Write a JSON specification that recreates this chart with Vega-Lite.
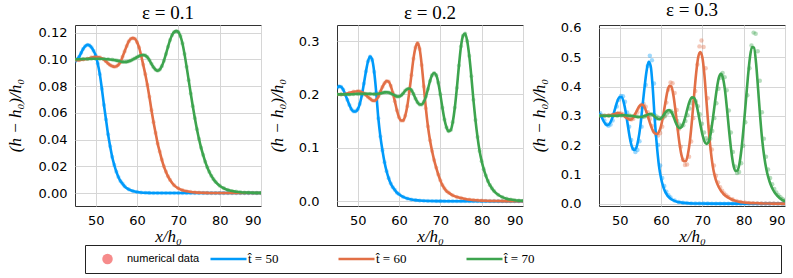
{
"$schema":"https://vega.github.io/schema/vega-lite/v6.json",
"autosize":{"type":"pad"},
"padding":{"left":5,"top":0,"right":0,"bottom":0},
"bounds":"flush",
"spacing":76,
"config":{
 "view":{"stroke":"#333","strokeWidth":1},
 "axis":{"grid":true,"gridColor":"#d6d6d6","gridWidth":1,"domain":false,"ticks":false,"labelFont":"DejaVu Sans","labelFontSize":13,"labelColor":"#000","titleFont":"Liberation Serif","titleFontSize":17,"titleFontStyle":"italic","titleFontWeight":"normal","titleColor":"#000"},
 "axisY":{"labelPadding":7,"titleX":-60,"titleY":90,"titleAngle":-90,"titleAlign":"center","titleBaseline":"middle"},
 "axisX":{"labelPadding":8,"titleY":35,"titleBaseline":"alphabetic"},
 "title":{"font":"Liberation Serif","fontSize":19,"fontWeight":"normal","offset":2,"color":"#000"},
 "legend":{"orient":"none","clipHeight":14,"labelFontSize":12,"labelColor":"#000"}
},
"datasets":{
"p1":[
{"s":"50","x":45,"y":0.0985},{"s":"50","x":45.5,"y":0.1},{"s":"50","x":46,"y":0.102},{"s":"50","x":46.5,"y":0.105},{"s":"50","x":47,"y":0.108},{"s":"50","x":47.5,"y":0.11},{"s":"50","x":48,"y":0.111},{"s":"50","x":48.5,"y":0.1105},{"s":"50","x":49,"y":0.109},{"s":"50","x":49.5,"y":0.1065},{"s":"50","x":50,"y":0.103},{"s":"50","x":50.5,"y":0.097},{"s":"50","x":51,"y":0.089},{"s":"50","x":51.5,"y":0.078},{"s":"50","x":52,"y":0.066},{"s":"50","x":52.5,"y":0.055},{"s":"50","x":53,"y":0.044},{"s":"50","x":53.5,"y":0.035},{"s":"50","x":54,"y":0.027},{"s":"50","x":54.5,"y":0.021},{"s":"50","x":55,"y":0.016},{"s":"50","x":55.5,"y":0.012},{"s":"50","x":56,"y":0.009},{"s":"50","x":56.5,"y":0.007},{"s":"50","x":57,"y":0.005},{"s":"50","x":58,"y":0.0028},{"s":"50","x":59,"y":0.0015},{"s":"50","x":60,"y":0.0008},{"s":"50","x":61,"y":0.0004},{"s":"50","x":62,"y":0.0002},{"s":"50","x":63,"y":0.0001},{"s":"50","x":64,"y":0},{"s":"50","x":65,"y":0},{"s":"50","x":66,"y":0},{"s":"50","x":67,"y":0},{"s":"50","x":68,"y":0},{"s":"50","x":69,"y":0},{"s":"50","x":70,"y":0},{"s":"50","x":71,"y":0},{"s":"50","x":72,"y":0},{"s":"50","x":73,"y":0},{"s":"50","x":74,"y":0},{"s":"50","x":75,"y":0},{"s":"50","x":76,"y":0},{"s":"50","x":77,"y":0},{"s":"50","x":78,"y":0},{"s":"50","x":79,"y":0},{"s":"50","x":80,"y":0},{"s":"50","x":81,"y":0},{"s":"50","x":82,"y":0},{"s":"50","x":83,"y":0},{"s":"50","x":84,"y":0},{"s":"50","x":85,"y":0},{"s":"50","x":86,"y":0},{"s":"50","x":87,"y":0},{"s":"50","x":88,"y":0},{"s":"50","x":89,"y":0},{"s":"50","x":90,"y":0},
{"s":"60","x":45,"y":0.0995},{"s":"60","x":46,"y":0.0995},{"s":"60","x":47,"y":0.1},{"s":"60","x":48,"y":0.1005},{"s":"60","x":49,"y":0.1015},{"s":"60","x":50,"y":0.102},{"s":"60","x":51,"y":0.1015},{"s":"60","x":52,"y":0.1},{"s":"60","x":52.5,"y":0.0985},{"s":"60","x":53,"y":0.097},{"s":"60","x":53.5,"y":0.0958},{"s":"60","x":54,"y":0.095},{"s":"60","x":54.5,"y":0.0945},{"s":"60","x":55,"y":0.0948},{"s":"60","x":55.5,"y":0.096},{"s":"60","x":56,"y":0.098},{"s":"60","x":56.5,"y":0.102},{"s":"60","x":57,"y":0.106},{"s":"60","x":57.5,"y":0.11},{"s":"60","x":58,"y":0.1135},{"s":"60","x":58.5,"y":0.1155},{"s":"60","x":59,"y":0.116},{"s":"60","x":59.5,"y":0.1155},{"s":"60","x":60,"y":0.113},{"s":"60","x":60.5,"y":0.109},{"s":"60","x":61,"y":0.103},{"s":"60","x":61.5,"y":0.096},{"s":"60","x":62,"y":0.089},{"s":"60","x":62.5,"y":0.081},{"s":"60","x":63,"y":0.072},{"s":"60","x":63.5,"y":0.062},{"s":"60","x":64,"y":0.053},{"s":"60","x":64.5,"y":0.045},{"s":"60","x":65,"y":0.037},{"s":"60","x":65.5,"y":0.031},{"s":"60","x":66,"y":0.025},{"s":"60","x":66.5,"y":0.02},{"s":"60","x":67,"y":0.016},{"s":"60","x":67.5,"y":0.0125},{"s":"60","x":68,"y":0.0098},{"s":"60","x":69,"y":0.0058},{"s":"60","x":70,"y":0.0035},{"s":"60","x":71,"y":0.0021},{"s":"60","x":72,"y":0.0013},{"s":"60","x":73,"y":0.0008},{"s":"60","x":74,"y":0.0005},{"s":"60","x":75,"y":0.0003},{"s":"60","x":76,"y":0.0002},{"s":"60","x":77,"y":0.0001},{"s":"60","x":78,"y":0},{"s":"60","x":79,"y":0},{"s":"60","x":80,"y":0},{"s":"60","x":81,"y":0},{"s":"60","x":82,"y":0},{"s":"60","x":83,"y":0},{"s":"60","x":84,"y":0},{"s":"60","x":85,"y":0},{"s":"60","x":86,"y":0},{"s":"60","x":87,"y":0},{"s":"60","x":88,"y":0},{"s":"60","x":89,"y":0},{"s":"60","x":90,"y":0},
{"s":"70","x":45,"y":0.1},{"s":"70","x":46,"y":0.1002},{"s":"70","x":47,"y":0.1003},{"s":"70","x":48,"y":0.1004},{"s":"70","x":49,"y":0.1005},{"s":"70","x":50,"y":0.1005},{"s":"70","x":51,"y":0.1005},{"s":"70","x":52,"y":0.1004},{"s":"70","x":53,"y":0.1002},{"s":"70","x":54,"y":0.0998},{"s":"70","x":55,"y":0.0993},{"s":"70","x":55.5,"y":0.0989},{"s":"70","x":56,"y":0.0985},{"s":"70","x":56.5,"y":0.0982},{"s":"70","x":57,"y":0.0981},{"s":"70","x":57.5,"y":0.0982},{"s":"70","x":58,"y":0.0986},{"s":"70","x":58.5,"y":0.0992},{"s":"70","x":59,"y":0.1},{"s":"70","x":59.5,"y":0.1008},{"s":"70","x":60,"y":0.1017},{"s":"70","x":60.5,"y":0.1025},{"s":"70","x":61,"y":0.1031},{"s":"70","x":61.5,"y":0.1033},{"s":"70","x":62,"y":0.103},{"s":"70","x":62.5,"y":0.1017},{"s":"70","x":63,"y":0.0995},{"s":"70","x":63.5,"y":0.0967},{"s":"70","x":64,"y":0.0941},{"s":"70","x":64.5,"y":0.0923},{"s":"70","x":65,"y":0.0916},{"s":"70","x":65.5,"y":0.0924},{"s":"70","x":66,"y":0.095},{"s":"70","x":66.5,"y":0.099},{"s":"70","x":67,"y":0.104},{"s":"70","x":67.5,"y":0.1095},{"s":"70","x":68,"y":0.1145},{"s":"70","x":68.5,"y":0.1183},{"s":"70","x":69,"y":0.1205},{"s":"70","x":69.5,"y":0.1212},{"s":"70","x":70,"y":0.1205},{"s":"70","x":70.5,"y":0.1175},{"s":"70","x":71,"y":0.112},{"s":"70","x":71.5,"y":0.104},{"s":"70","x":72,"y":0.0945},{"s":"70","x":72.5,"y":0.0845},{"s":"70","x":73,"y":0.0745},{"s":"70","x":73.5,"y":0.065},{"s":"70","x":74,"y":0.056},{"s":"70","x":74.5,"y":0.0478},{"s":"70","x":75,"y":0.0405},{"s":"70","x":75.5,"y":0.034},{"s":"70","x":76,"y":0.0285},{"s":"70","x":76.5,"y":0.0235},{"s":"70","x":77,"y":0.0193},{"s":"70","x":77.5,"y":0.0158},{"s":"70","x":78,"y":0.0128},{"s":"70","x":78.5,"y":0.0104},{"s":"70","x":79,"y":0.0084},{"s":"70","x":80,"y":0.0055},{"s":"70","x":81,"y":0.0036},{"s":"70","x":82,"y":0.0023},{"s":"70","x":83,"y":0.0015},{"s":"70","x":84,"y":0.001},{"s":"70","x":85,"y":0.0006},{"s":"70","x":86,"y":0.0004},{"s":"70","x":87,"y":0.0003},{"s":"70","x":88,"y":0.0002},{"s":"70","x":89,"y":0.0001},{"s":"70","x":90,"y":0.0001}
],
"p2":[
{"s":"50","x":45,"y":0.212},{"s":"50","x":45.5,"y":0.215},{"s":"50","x":46,"y":0.214},{"s":"50","x":46.5,"y":0.209},{"s":"50","x":47,"y":0.2},{"s":"50","x":47.5,"y":0.19},{"s":"50","x":48,"y":0.18},{"s":"50","x":48.5,"y":0.172},{"s":"50","x":49,"y":0.168},{"s":"50","x":49.5,"y":0.168},{"s":"50","x":50,"y":0.172},{"s":"50","x":50.5,"y":0.182},{"s":"50","x":51,"y":0.198},{"s":"50","x":51.5,"y":0.22},{"s":"50","x":52,"y":0.243},{"s":"50","x":52.5,"y":0.262},{"s":"50","x":53,"y":0.271},{"s":"50","x":53.5,"y":0.265},{"s":"50","x":54,"y":0.242},{"s":"50","x":54.5,"y":0.203},{"s":"50","x":55,"y":0.155},{"s":"50","x":55.5,"y":0.121},{"s":"50","x":56,"y":0.095},{"s":"50","x":56.5,"y":0.073},{"s":"50","x":57,"y":0.056},{"s":"50","x":57.5,"y":0.043},{"s":"50","x":58,"y":0.033},{"s":"50","x":58.5,"y":0.026},{"s":"50","x":59,"y":0.021},{"s":"50","x":59.5,"y":0.016},{"s":"50","x":60,"y":0.013},{"s":"50","x":61,"y":0.008},{"s":"50","x":62,"y":0.005},{"s":"50","x":63,"y":0.003},{"s":"50","x":64,"y":0.002},{"s":"50","x":65,"y":0.0012},{"s":"50","x":66,"y":0.0008},{"s":"50","x":67,"y":0.0005},{"s":"50","x":68,"y":0.0003},{"s":"50","x":69,"y":0.0002},{"s":"50","x":70,"y":0.0001},{"s":"50","x":71,"y":0},{"s":"50","x":72,"y":0},{"s":"50","x":73,"y":0},{"s":"50","x":74,"y":0},{"s":"50","x":75,"y":0},{"s":"50","x":76,"y":0},{"s":"50","x":77,"y":0},{"s":"50","x":78,"y":0},{"s":"50","x":79,"y":0},{"s":"50","x":80,"y":0},{"s":"50","x":81,"y":0},{"s":"50","x":82,"y":0},{"s":"50","x":83,"y":0},{"s":"50","x":84,"y":0},{"s":"50","x":85,"y":0},{"s":"50","x":86,"y":0},{"s":"50","x":87,"y":0},{"s":"50","x":88,"y":0},{"s":"50","x":89,"y":0},{"s":"50","x":90,"y":0},
{"s":"60","x":45,"y":0.2},{"s":"60","x":46,"y":0.2},{"s":"60","x":47,"y":0.201},{"s":"60","x":48,"y":0.203},{"s":"60","x":49,"y":0.205},{"s":"60","x":50,"y":0.206},{"s":"60","x":50.5,"y":0.2055},{"s":"60","x":51,"y":0.204},{"s":"60","x":51.5,"y":0.202},{"s":"60","x":52,"y":0.199},{"s":"60","x":52.5,"y":0.195},{"s":"60","x":53,"y":0.192},{"s":"60","x":53.5,"y":0.189},{"s":"60","x":54,"y":0.188},{"s":"60","x":54.5,"y":0.19},{"s":"60","x":55,"y":0.196},{"s":"60","x":55.5,"y":0.205},{"s":"60","x":56,"y":0.214},{"s":"60","x":56.5,"y":0.221},{"s":"60","x":57,"y":0.225},{"s":"60","x":57.5,"y":0.224},{"s":"60","x":58,"y":0.216},{"s":"60","x":58.5,"y":0.203},{"s":"60","x":59,"y":0.187},{"s":"60","x":59.5,"y":0.17},{"s":"60","x":60,"y":0.157},{"s":"60","x":60.5,"y":0.151},{"s":"60","x":61,"y":0.151},{"s":"60","x":61.5,"y":0.16},{"s":"60","x":62,"y":0.178},{"s":"60","x":62.5,"y":0.205},{"s":"60","x":63,"y":0.236},{"s":"60","x":63.5,"y":0.267},{"s":"60","x":64,"y":0.288},{"s":"60","x":64.5,"y":0.296},{"s":"60","x":65,"y":0.285},{"s":"60","x":65.5,"y":0.255},{"s":"60","x":66,"y":0.215},{"s":"60","x":66.5,"y":0.174},{"s":"60","x":67,"y":0.14},{"s":"60","x":67.5,"y":0.114},{"s":"60","x":68,"y":0.094},{"s":"60","x":68.5,"y":0.077},{"s":"60","x":69,"y":0.063},{"s":"60","x":69.5,"y":0.05},{"s":"60","x":70,"y":0.039},{"s":"60","x":70.5,"y":0.03},{"s":"60","x":71,"y":0.024},{"s":"60","x":71.5,"y":0.019},{"s":"60","x":72,"y":0.016},{"s":"60","x":73,"y":0.011},{"s":"60","x":74,"y":0.008},{"s":"60","x":75,"y":0.006},{"s":"60","x":76,"y":0.004},{"s":"60","x":77,"y":0.003},{"s":"60","x":78,"y":0.002},{"s":"60","x":79,"y":0.0015},{"s":"60","x":80,"y":0.001},{"s":"60","x":81,"y":0.0007},{"s":"60","x":82,"y":0.0005},{"s":"60","x":83,"y":0.0004},{"s":"60","x":84,"y":0.0003},{"s":"60","x":85,"y":0.0002},{"s":"60","x":86,"y":0.0001},{"s":"60","x":87,"y":0.0001},{"s":"60","x":88,"y":0},{"s":"60","x":89,"y":0},{"s":"60","x":90,"y":0},
{"s":"70","x":45,"y":0.2},{"s":"70","x":46,"y":0.2},{"s":"70","x":47,"y":0.2},{"s":"70","x":48,"y":0.2},{"s":"70","x":49,"y":0.2005},{"s":"70","x":50,"y":0.201},{"s":"70","x":51,"y":0.201},{"s":"70","x":52,"y":0.201},{"s":"70","x":53,"y":0.201},{"s":"70","x":54,"y":0.2005},{"s":"70","x":55,"y":0.201},{"s":"70","x":55.5,"y":0.202},{"s":"70","x":56,"y":0.203},{"s":"70","x":56.5,"y":0.2038},{"s":"70","x":57,"y":0.204},{"s":"70","x":57.5,"y":0.2035},{"s":"70","x":58,"y":0.202},{"s":"70","x":58.5,"y":0.2},{"s":"70","x":59,"y":0.198},{"s":"70","x":59.5,"y":0.196},{"s":"70","x":60,"y":0.196},{"s":"70","x":60.5,"y":0.198},{"s":"70","x":61,"y":0.202},{"s":"70","x":61.5,"y":0.207},{"s":"70","x":62,"y":0.21},{"s":"70","x":62.5,"y":0.211},{"s":"70","x":63,"y":0.208},{"s":"70","x":63.5,"y":0.201},{"s":"70","x":64,"y":0.192},{"s":"70","x":64.5,"y":0.185},{"s":"70","x":65,"y":0.181},{"s":"70","x":65.5,"y":0.181},{"s":"70","x":66,"y":0.186},{"s":"70","x":66.5,"y":0.196},{"s":"70","x":67,"y":0.21},{"s":"70","x":67.5,"y":0.225},{"s":"70","x":68,"y":0.236},{"s":"70","x":68.5,"y":0.24},{"s":"70","x":69,"y":0.236},{"s":"70","x":69.5,"y":0.222},{"s":"70","x":70,"y":0.2},{"s":"70","x":70.5,"y":0.175},{"s":"70","x":71,"y":0.153},{"s":"70","x":71.5,"y":0.138},{"s":"70","x":72,"y":0.131},{"s":"70","x":72.5,"y":0.133},{"s":"70","x":73,"y":0.148},{"s":"70","x":73.5,"y":0.175},{"s":"70","x":74,"y":0.212},{"s":"70","x":74.5,"y":0.254},{"s":"70","x":75,"y":0.29},{"s":"70","x":75.5,"y":0.31},{"s":"70","x":76,"y":0.314},{"s":"70","x":76.5,"y":0.3},{"s":"70","x":77,"y":0.272},{"s":"70","x":77.5,"y":0.234},{"s":"70","x":78,"y":0.19},{"s":"70","x":78.5,"y":0.152},{"s":"70","x":79,"y":0.12},{"s":"70","x":79.5,"y":0.094},{"s":"70","x":80,"y":0.075},{"s":"70","x":80.5,"y":0.06},{"s":"70","x":81,"y":0.048},{"s":"70","x":81.5,"y":0.038},{"s":"70","x":82,"y":0.03},{"s":"70","x":82.5,"y":0.024},{"s":"70","x":83,"y":0.019},{"s":"70","x":84,"y":0.012},{"s":"70","x":85,"y":0.0075},{"s":"70","x":86,"y":0.0047},{"s":"70","x":87,"y":0.003},{"s":"70","x":88,"y":0.0018},{"s":"70","x":89,"y":0.0011},{"s":"70","x":90,"y":0.0007}
],
"p3":[
{"s":"50","x":45,"y":0.308,"xd":45.3,"d":0.3085},{"s":"50","x":45.5,"y":0.3,"xd":45.8,"d":0.3},{"s":"50","x":46,"y":0.285,"xd":46.3,"d":0.284},{"s":"50","x":46.5,"y":0.273,"xd":46.8,"d":0.271},{"s":"50","x":47,"y":0.268,"xd":47.3,"d":0.266},{"s":"50","x":47.5,"y":0.272,"xd":47.8,"d":0.27},{"s":"50","x":48,"y":0.285,"xd":48.3,"d":0.284},{"s":"50","x":48.5,"y":0.305,"xd":48.8,"d":0.305},{"s":"50","x":49,"y":0.33,"xd":49.3,"d":0.332},{"s":"50","x":49.5,"y":0.352,"xd":49.8,"d":0.355},{"s":"50","x":50,"y":0.364,"xd":50.3,"d":0.368},{"s":"50","x":50.5,"y":0.363,"xd":50.8,"d":0.367},{"s":"50","x":51,"y":0.345,"xd":51.3,"d":0.348},{"s":"50","x":51.5,"y":0.31,"xd":51.8,"d":0.311},{"s":"50","x":52,"y":0.265,"xd":52.3,"d":0.263},{"s":"50","x":52.5,"y":0.222,"xd":52.8,"d":0.217},{"s":"50","x":53,"y":0.193,"xd":53.3,"d":0.187},{"s":"50","x":53.5,"y":0.183,"xd":53.8,"d":0.176},{"s":"50","x":54,"y":0.19,"xd":54.3,"d":0.183},{"s":"50","x":54.5,"y":0.218,"xd":54.8,"d":0.213},{"s":"50","x":55,"y":0.265,"xd":55.3,"d":0.263},{"s":"50","x":55.5,"y":0.33,"xd":55.8,"d":0.332},{"s":"50","x":56,"y":0.395,"xd":56.3,"d":0.405},{"s":"50","x":56.5,"y":0.452,"xd":56.8,"d":0.47},{"s":"50","x":57,"y":0.484,"xd":57.3,"d":0.505},{"s":"50","x":57.5,"y":0.47,"xd":57.8,"d":0.49},{"s":"50","x":58,"y":0.395,"xd":58.3,"d":0.41},{"s":"50","x":58.5,"y":0.285,"xd":58.8,"d":0.29},{"s":"50","x":59,"y":0.198,"xd":59.3,"d":0.2},{"s":"50","x":59.5,"y":0.13,"xd":59.8,"d":0.13},{"s":"50","x":60,"y":0.088,"xd":60.3,"d":0.088},{"s":"50","x":60.5,"y":0.06,"xd":60.8,"d":0.06},{"s":"50","x":61,"y":0.041,"xd":61.3,"d":0.041},{"s":"50","x":61.5,"y":0.029,"xd":61.8,"d":0.029},{"s":"50","x":62,"y":0.021,"xd":62.3,"d":0.021},{"s":"50","x":63,"y":0.011,"xd":63.3,"d":0.011},{"s":"50","x":64,"y":0.006,"xd":64.3,"d":0.006},{"s":"50","x":65,"y":0.0035,"xd":65.3,"d":0.0035},{"s":"50","x":66,"y":0.002,"xd":66.3,"d":0.002},{"s":"50","x":67,"y":0.001,"xd":67.3,"d":0.001},{"s":"50","x":68,"y":0.0006,"xd":68.3,"d":0.0006},{"s":"50","x":69,"y":0.0004,"xd":69.3,"d":0.0004},{"s":"50","x":70,"y":0.0003,"xd":70.3,"d":0.0003},{"s":"50","x":71,"y":0.0002,"xd":71.3,"d":0.0002},{"s":"50","x":72,"y":0.0001,"xd":72.3,"d":0.0001},{"s":"50","x":73,"y":0,"xd":73.3,"d":0},{"s":"50","x":74,"y":0,"xd":74.3,"d":0},{"s":"50","x":75,"y":0,"xd":75.3,"d":0},{"s":"50","x":76,"y":0,"xd":76.3,"d":0},{"s":"50","x":77,"y":0,"xd":77.3,"d":0},{"s":"50","x":78,"y":0,"xd":78.3,"d":0},{"s":"50","x":79,"y":0,"xd":79.3,"d":0},{"s":"50","x":80,"y":0,"xd":80.3,"d":0},{"s":"50","x":81,"y":0,"xd":81.3,"d":0},{"s":"50","x":82,"y":0,"xd":82.3,"d":0},{"s":"50","x":83,"y":0,"xd":83.3,"d":0},{"s":"50","x":84,"y":0,"xd":84.3,"d":0},{"s":"50","x":85,"y":0,"xd":85.3,"d":0},{"s":"50","x":86,"y":0,"xd":86.3,"d":0},{"s":"50","x":87,"y":0,"xd":87.3,"d":0},{"s":"50","x":88,"y":0,"xd":88.3,"d":0},{"s":"50","x":89,"y":0,"xd":89.3,"d":0},{"s":"50","x":90,"y":0,"xd":90,"d":0},
{"s":"60","x":45,"y":0.3,"xd":45.3,"d":0.3},{"s":"60","x":46,"y":0.3,"xd":46.3,"d":0.3},{"s":"60","x":47,"y":0.301,"xd":47.3,"d":0.301},{"s":"60","x":48,"y":0.303,"xd":48.3,"d":0.303},{"s":"60","x":48.5,"y":0.305,"xd":48.8,"d":0.305},{"s":"60","x":49,"y":0.307,"xd":49.3,"d":0.307},{"s":"60","x":49.5,"y":0.309,"xd":49.8,"d":0.309},{"s":"60","x":50,"y":0.308,"xd":50.3,"d":0.308},{"s":"60","x":50.5,"y":0.305,"xd":50.8,"d":0.305},{"s":"60","x":51,"y":0.3,"xd":51.3,"d":0.3},{"s":"60","x":51.5,"y":0.294,"xd":51.8,"d":0.294},{"s":"60","x":52,"y":0.29,"xd":52.3,"d":0.29},{"s":"60","x":52.5,"y":0.287,"xd":52.8,"d":0.287},{"s":"60","x":53,"y":0.29,"xd":53.3,"d":0.29},{"s":"60","x":53.5,"y":0.3,"xd":53.8,"d":0.3},{"s":"60","x":54,"y":0.313,"xd":54.3,"d":0.313},{"s":"60","x":54.5,"y":0.327,"xd":54.8,"d":0.328},{"s":"60","x":55,"y":0.336,"xd":55.3,"d":0.338},{"s":"60","x":55.5,"y":0.338,"xd":55.8,"d":0.34},{"s":"60","x":56,"y":0.33,"xd":56.3,"d":0.331},{"s":"60","x":56.5,"y":0.312,"xd":56.8,"d":0.312},{"s":"60","x":57,"y":0.29,"xd":57.3,"d":0.289},{"s":"60","x":57.5,"y":0.268,"xd":57.8,"d":0.265},{"s":"60","x":58,"y":0.25,"xd":58.3,"d":0.246},{"s":"60","x":58.5,"y":0.24,"xd":58.8,"d":0.235},{"s":"60","x":59,"y":0.238,"xd":59.3,"d":0.233},{"s":"60","x":59.5,"y":0.245,"xd":59.8,"d":0.241},{"s":"60","x":60,"y":0.265,"xd":60.3,"d":0.263},{"s":"60","x":60.5,"y":0.298,"xd":60.8,"d":0.299},{"s":"60","x":61,"y":0.34,"xd":61.3,"d":0.345},{"s":"60","x":61.5,"y":0.38,"xd":61.8,"d":0.39},{"s":"60","x":62,"y":0.402,"xd":62.3,"d":0.414},{"s":"60","x":62.5,"y":0.4,"xd":62.8,"d":0.411},{"s":"60","x":63,"y":0.37,"xd":63.3,"d":0.378},{"s":"60","x":63.5,"y":0.318,"xd":63.8,"d":0.32},{"s":"60","x":64,"y":0.258,"xd":64.3,"d":0.254},{"s":"60","x":64.5,"y":0.203,"xd":64.8,"d":0.194},{"s":"60","x":65,"y":0.163,"xd":65.3,"d":0.15},{"s":"60","x":65.5,"y":0.145,"xd":65.8,"d":0.132},{"s":"60","x":66,"y":0.145,"xd":66.3,"d":0.134},{"s":"60","x":66.5,"y":0.168,"xd":66.8,"d":0.16},{"s":"60","x":67,"y":0.215,"xd":67.3,"d":0.212},{"s":"60","x":67.5,"y":0.285,"xd":67.8,"d":0.292},{"s":"60","x":68,"y":0.368,"xd":68.3,"d":0.385},{"s":"60","x":68.5,"y":0.445,"xd":68.8,"d":0.475},{"s":"60","x":69,"y":0.5,"xd":69.3,"d":0.537},{"s":"60","x":69.5,"y":0.518,"xd":69.8,"d":0.557},{"s":"60","x":70,"y":0.5,"xd":70.3,"d":0.535},{"s":"60","x":70.5,"y":0.44,"xd":70.8,"d":0.462},{"s":"60","x":71,"y":0.35,"xd":71.3,"d":0.36},{"s":"60","x":71.5,"y":0.26,"xd":71.8,"d":0.262},{"s":"60","x":72,"y":0.185,"xd":72.3,"d":0.185},{"s":"60","x":72.5,"y":0.13,"xd":72.8,"d":0.13},{"s":"60","x":73,"y":0.095,"xd":73.3,"d":0.095},{"s":"60","x":73.5,"y":0.072,"xd":73.8,"d":0.072},{"s":"60","x":74,"y":0.056,"xd":74.3,"d":0.056},{"s":"60","x":74.5,"y":0.044,"xd":74.8,"d":0.044},{"s":"60","x":75,"y":0.035,"xd":75.3,"d":0.035},{"s":"60","x":75.5,"y":0.028,"xd":75.8,"d":0.028},{"s":"60","x":76,"y":0.023,"xd":76.3,"d":0.023},{"s":"60","x":77,"y":0.015,"xd":77.3,"d":0.015},{"s":"60","x":78,"y":0.0095,"xd":78.3,"d":0.0095},{"s":"60","x":79,"y":0.006,"xd":79.3,"d":0.006},{"s":"60","x":80,"y":0.004,"xd":80.3,"d":0.004},{"s":"60","x":81,"y":0.0027,"xd":81.3,"d":0.0027},{"s":"60","x":82,"y":0.0018,"xd":82.3,"d":0.0018},{"s":"60","x":83,"y":0.0012,"xd":83.3,"d":0.0012},{"s":"60","x":84,"y":0.0008,"xd":84.3,"d":0.0008},{"s":"60","x":85,"y":0.0005,"xd":85.3,"d":0.0005},{"s":"60","x":86,"y":0.0003,"xd":86.3,"d":0.0003},{"s":"60","x":87,"y":0.0002,"xd":87.3,"d":0.0002},{"s":"60","x":88,"y":0.0001,"xd":88.3,"d":0.0001},{"s":"60","x":89,"y":0,"xd":89.3,"d":0},{"s":"60","x":90,"y":0,"xd":90,"d":0},
{"s":"70","x":45,"y":0.3,"xd":45.4,"d":0.3},{"s":"70","x":46,"y":0.3,"xd":46.4,"d":0.3},{"s":"70","x":47,"y":0.3,"xd":47.4,"d":0.3},{"s":"70","x":48,"y":0.3,"xd":48.4,"d":0.3},{"s":"70","x":49,"y":0.3,"xd":49.4,"d":0.3},{"s":"70","x":50,"y":0.301,"xd":50.4,"d":0.301},{"s":"70","x":51,"y":0.302,"xd":51.4,"d":0.302},{"s":"70","x":52,"y":0.301,"xd":52.4,"d":0.301},{"s":"70","x":53,"y":0.299,"xd":53.4,"d":0.299},{"s":"70","x":54,"y":0.297,"xd":54.4,"d":0.297},{"s":"70","x":55,"y":0.296,"xd":55.4,"d":0.296},{"s":"70","x":55.5,"y":0.297,"xd":55.9,"d":0.297},{"s":"70","x":56,"y":0.299,"xd":56.4,"d":0.299},{"s":"70","x":56.5,"y":0.302,"xd":56.9,"d":0.301},{"s":"70","x":57,"y":0.305,"xd":57.4,"d":0.304},{"s":"70","x":57.5,"y":0.306,"xd":57.9,"d":0.305},{"s":"70","x":58,"y":0.303,"xd":58.4,"d":0.303},{"s":"70","x":58.5,"y":0.297,"xd":58.9,"d":0.298},{"s":"70","x":59,"y":0.291,"xd":59.4,"d":0.293},{"s":"70","x":59.5,"y":0.288,"xd":59.9,"d":0.29},{"s":"70","x":60,"y":0.291,"xd":60.4,"d":0.292},{"s":"70","x":60.5,"y":0.299,"xd":60.9,"d":0.298},{"s":"70","x":61,"y":0.31,"xd":61.4,"d":0.307},{"s":"70","x":61.5,"y":0.318,"xd":61.9,"d":0.314},{"s":"70","x":62,"y":0.32,"xd":62.4,"d":0.316},{"s":"70","x":62.5,"y":0.313,"xd":62.9,"d":0.31},{"s":"70","x":63,"y":0.298,"xd":63.4,"d":0.298},{"s":"70","x":63.5,"y":0.279,"xd":63.9,"d":0.282},{"s":"70","x":64,"y":0.264,"xd":64.4,"d":0.27},{"s":"70","x":64.5,"y":0.258,"xd":64.9,"d":0.265},{"s":"70","x":65,"y":0.262,"xd":65.4,"d":0.268},{"s":"70","x":65.5,"y":0.278,"xd":65.9,"d":0.282},{"s":"70","x":66,"y":0.302,"xd":66.4,"d":0.302},{"s":"70","x":66.5,"y":0.33,"xd":66.9,"d":0.325},{"s":"70","x":67,"y":0.352,"xd":67.4,"d":0.343},{"s":"70","x":67.5,"y":0.363,"xd":67.9,"d":0.352},{"s":"70","x":68,"y":0.362,"xd":68.4,"d":0.35},{"s":"70","x":68.5,"y":0.343,"xd":68.9,"d":0.333},{"s":"70","x":69,"y":0.31,"xd":69.4,"d":0.305},{"s":"70","x":69.5,"y":0.272,"xd":69.9,"d":0.273},{"s":"70","x":70,"y":0.237,"xd":70.4,"d":0.243},{"s":"70","x":70.5,"y":0.213,"xd":70.9,"d":0.223},{"s":"70","x":71,"y":0.204,"xd":71.4,"d":0.216},{"s":"70","x":71.5,"y":0.21,"xd":71.9,"d":0.222},{"s":"70","x":72,"y":0.238,"xd":72.4,"d":0.248},{"s":"70","x":72.5,"y":0.285,"xd":72.9,"d":0.292},{"s":"70","x":73,"y":0.34,"xd":73.4,"d":0.343},{"s":"70","x":73.5,"y":0.392,"xd":73.9,"d":0.392},{"s":"70","x":74,"y":0.43,"xd":74.4,"d":0.43},{"s":"70","x":74.5,"y":0.443,"xd":74.9,"d":0.446},{"s":"70","x":75,"y":0.428,"xd":75.4,"d":0.432},{"s":"70","x":75.5,"y":0.385,"xd":75.9,"d":0.387},{"s":"70","x":76,"y":0.318,"xd":76.4,"d":0.318},{"s":"70","x":76.5,"y":0.245,"xd":76.9,"d":0.243},{"s":"70","x":77,"y":0.18,"xd":77.4,"d":0.176},{"s":"70","x":77.5,"y":0.133,"xd":77.9,"d":0.127},{"s":"70","x":78,"y":0.112,"xd":78.4,"d":0.105},{"s":"70","x":78.5,"y":0.113,"xd":78.9,"d":0.108},{"s":"70","x":79,"y":0.138,"xd":79.4,"d":0.138},{"s":"70","x":79.5,"y":0.19,"xd":79.9,"d":0.198},{"s":"70","x":80,"y":0.262,"xd":80.4,"d":0.278},{"s":"70","x":80.5,"y":0.345,"xd":80.9,"d":0.37},{"s":"70","x":81,"y":0.428,"xd":81.4,"d":0.462},{"s":"70","x":81.5,"y":0.497,"xd":81.9,"d":0.54},{"s":"70","x":82,"y":0.535,"xd":82.4,"d":0.584},{"s":"70","x":82.5,"y":0.533,"xd":82.9,"d":0.58},{"s":"70","x":83,"y":0.48,"xd":83.4,"d":0.52},{"s":"70","x":83.5,"y":0.39,"xd":83.9,"d":0.42},{"s":"70","x":84,"y":0.295,"xd":84.4,"d":0.312},{"s":"70","x":84.5,"y":0.215,"xd":84.9,"d":0.222},{"s":"70","x":85,"y":0.158,"xd":85.4,"d":0.16},{"s":"70","x":85.5,"y":0.117,"xd":85.9,"d":0.117},{"s":"70","x":86,"y":0.088,"xd":86.4,"d":0.088},{"s":"70","x":86.5,"y":0.066,"xd":86.9,"d":0.066},{"s":"70","x":87,"y":0.05,"xd":87.4,"d":0.05},{"s":"70","x":87.5,"y":0.038,"xd":87.9,"d":0.038},{"s":"70","x":88,"y":0.029,"xd":88.4,"d":0.029},{"s":"70","x":88.5,"y":0.022,"xd":88.9,"d":0.022},{"s":"70","x":89,"y":0.016,"xd":89.4,"d":0.016},{"s":"70","x":89.5,"y":0.011,"xd":89.9,"d":0.011},{"s":"70","x":90,"y":0.008,"xd":90,"d":0.009}
]
},
"hconcat":[
{
 "width":186,"height":181,"title":"ε = 0.1","data":{"name":"p1"},
 "encoding":{
  "x":{"field":"x","type":"quantitative","scale":{"domain":[45,90],"nice":false,"zero":false},"axis":{"values":[50,60,70,80,90],"title":"x/h₀"}},
  "y":{"field":"y","type":"quantitative","scale":{"domain":[-0.0097,0.1258],"nice":false,"zero":false},"axis":{"values":[0,0.02,0.04,0.06,0.08,0.1,0.12],"format":".2f","title":"(h − h₀)/h₀","labelPadding":8}}
 },
 "layer":[
  {"mark":{"type":"point","filled":true,"size":18,"opacity":0.35,"strokeWidth":0,"clip":true},
   "encoding":{
    "fill":{"field":"s","type":"nominal","scale":{"domain":["50","60","70","numerical data"],"range":["#009AFA","#E26F46","#3DA44E","#f68b8b"]},"legend":null},
    "shape":{"datum":"numerical data","type":"nominal","scale":{"domain":["numerical data"],"range":["circle"]},
     "legend":{"title":"\u00a0","titleOrient":"right","titlePadding":575,"orient":"none","legendX":10,"legendY":220,"padding":7,"strokeColor":"#222","symbolFillColor":"#f68b8b","symbolStrokeColor":"#f68b8b","symbolStrokeWidth":0,"symbolOpacity":1,"symbolSize":110,"symbolOffset":10,"labelOffset":14,"labelFont":"Liberation Sans","labelFontSize":11}}
   }},
  {"mark":{"type":"line","strokeWidth":2.6,"interpolate":"monotone","clip":true},
   "encoding":{
    "color":{"field":"s","type":"nominal","scale":{"domain":["50","60","70"],"range":["#009AFA","#E26F46","#3DA44E"]},
     "legend":{"title":null,"orient":"none","legendX":134,"legendY":227,"direction":"horizontal","columns":3,"gridAlign":"all","columnPadding":58,"symbolType":"stroke","symbolSize":1296,"symbolStrokeWidth":2.6,"symbolOpacity":1,"labelOffset":0,"padding":0,"labelFont":"Liberation Serif","labelFontSize":13,"labelExpr":"'t̂ = ' + datum.label"}}
   }}
 ]
},
{
 "width":186,"height":181,"title":"ε = 0.2","data":{"name":"p2"},
 "encoding":{
  "x":{"field":"x","type":"quantitative","scale":{"domain":[45,90],"nice":false,"zero":false},"axis":{"values":[50,60,70,80,90],"title":"x/h₀"}},
  "y":{"field":"y","type":"quantitative","scale":{"domain":[-0.009,0.33],"nice":false,"zero":false},"axis":{"values":[0,0.1,0.2,0.3],"format":".1f","title":"(h − h₀)/h₀","labelPadding":18}}
 },
 "layer":[
  {"mark":{"type":"point","filled":true,"size":18,"opacity":0.35,"strokeWidth":0,"clip":true},
   "encoding":{"fill":{"field":"s","type":"nominal","scale":{"domain":["50","60","70","numerical data"],"range":["#009AFA","#E26F46","#3DA44E","#f68b8b"]},"legend":null}}},
  {"mark":{"type":"line","strokeWidth":2.6,"interpolate":"monotone","clip":true},
   "encoding":{"color":{"field":"s","type":"nominal","scale":{"domain":["50","60","70"],"range":["#009AFA","#E26F46","#3DA44E"]}}}}
 ]
},
{
 "width":186,"height":181,"title":"ε = 0.3","data":{"name":"p3"},
 "layer":[
  {"mark":{"type":"point","filled":true,"size":20,"opacity":0.38,"strokeWidth":0,"clip":true},
   "encoding":{
    "x":{"field":"xd","type":"quantitative","scale":{"domain":[45,90],"nice":false,"zero":false},"axis":{"values":[50,60,70,80,90],"title":"x/h₀"}},
    "y":{"field":"d","type":"quantitative","scale":{"domain":[-0.008,0.61],"nice":false,"zero":false},"axis":{"values":[0,0.1,0.2,0.3,0.4,0.5,0.6],"format":".1f","title":"(h − h₀)/h₀","labelPadding":18}},
    "fill":{"field":"s","type":"nominal","scale":{"domain":["50","60","70","numerical data"],"range":["#009AFA","#E26F46","#3DA44E","#f68b8b"]},"legend":null}
   }},
  {"mark":{"type":"line","strokeWidth":2.6,"interpolate":"monotone","clip":true},
   "encoding":{
    "x":{"field":"x","type":"quantitative","scale":{"domain":[45,90],"nice":false,"zero":false},"axis":{"values":[50,60,70,80,90],"title":"x/h₀"}},
    "y":{"field":"y","type":"quantitative","scale":{"domain":[-0.008,0.61],"nice":false,"zero":false},"axis":{"values":[0,0.1,0.2,0.3,0.4,0.5,0.6],"format":".1f","title":"(h − h₀)/h₀","labelPadding":18}},
    "color":{"field":"s","type":"nominal","scale":{"domain":["50","60","70"],"range":["#009AFA","#E26F46","#3DA44E"]}}
   }}
 ]
}
]
}
